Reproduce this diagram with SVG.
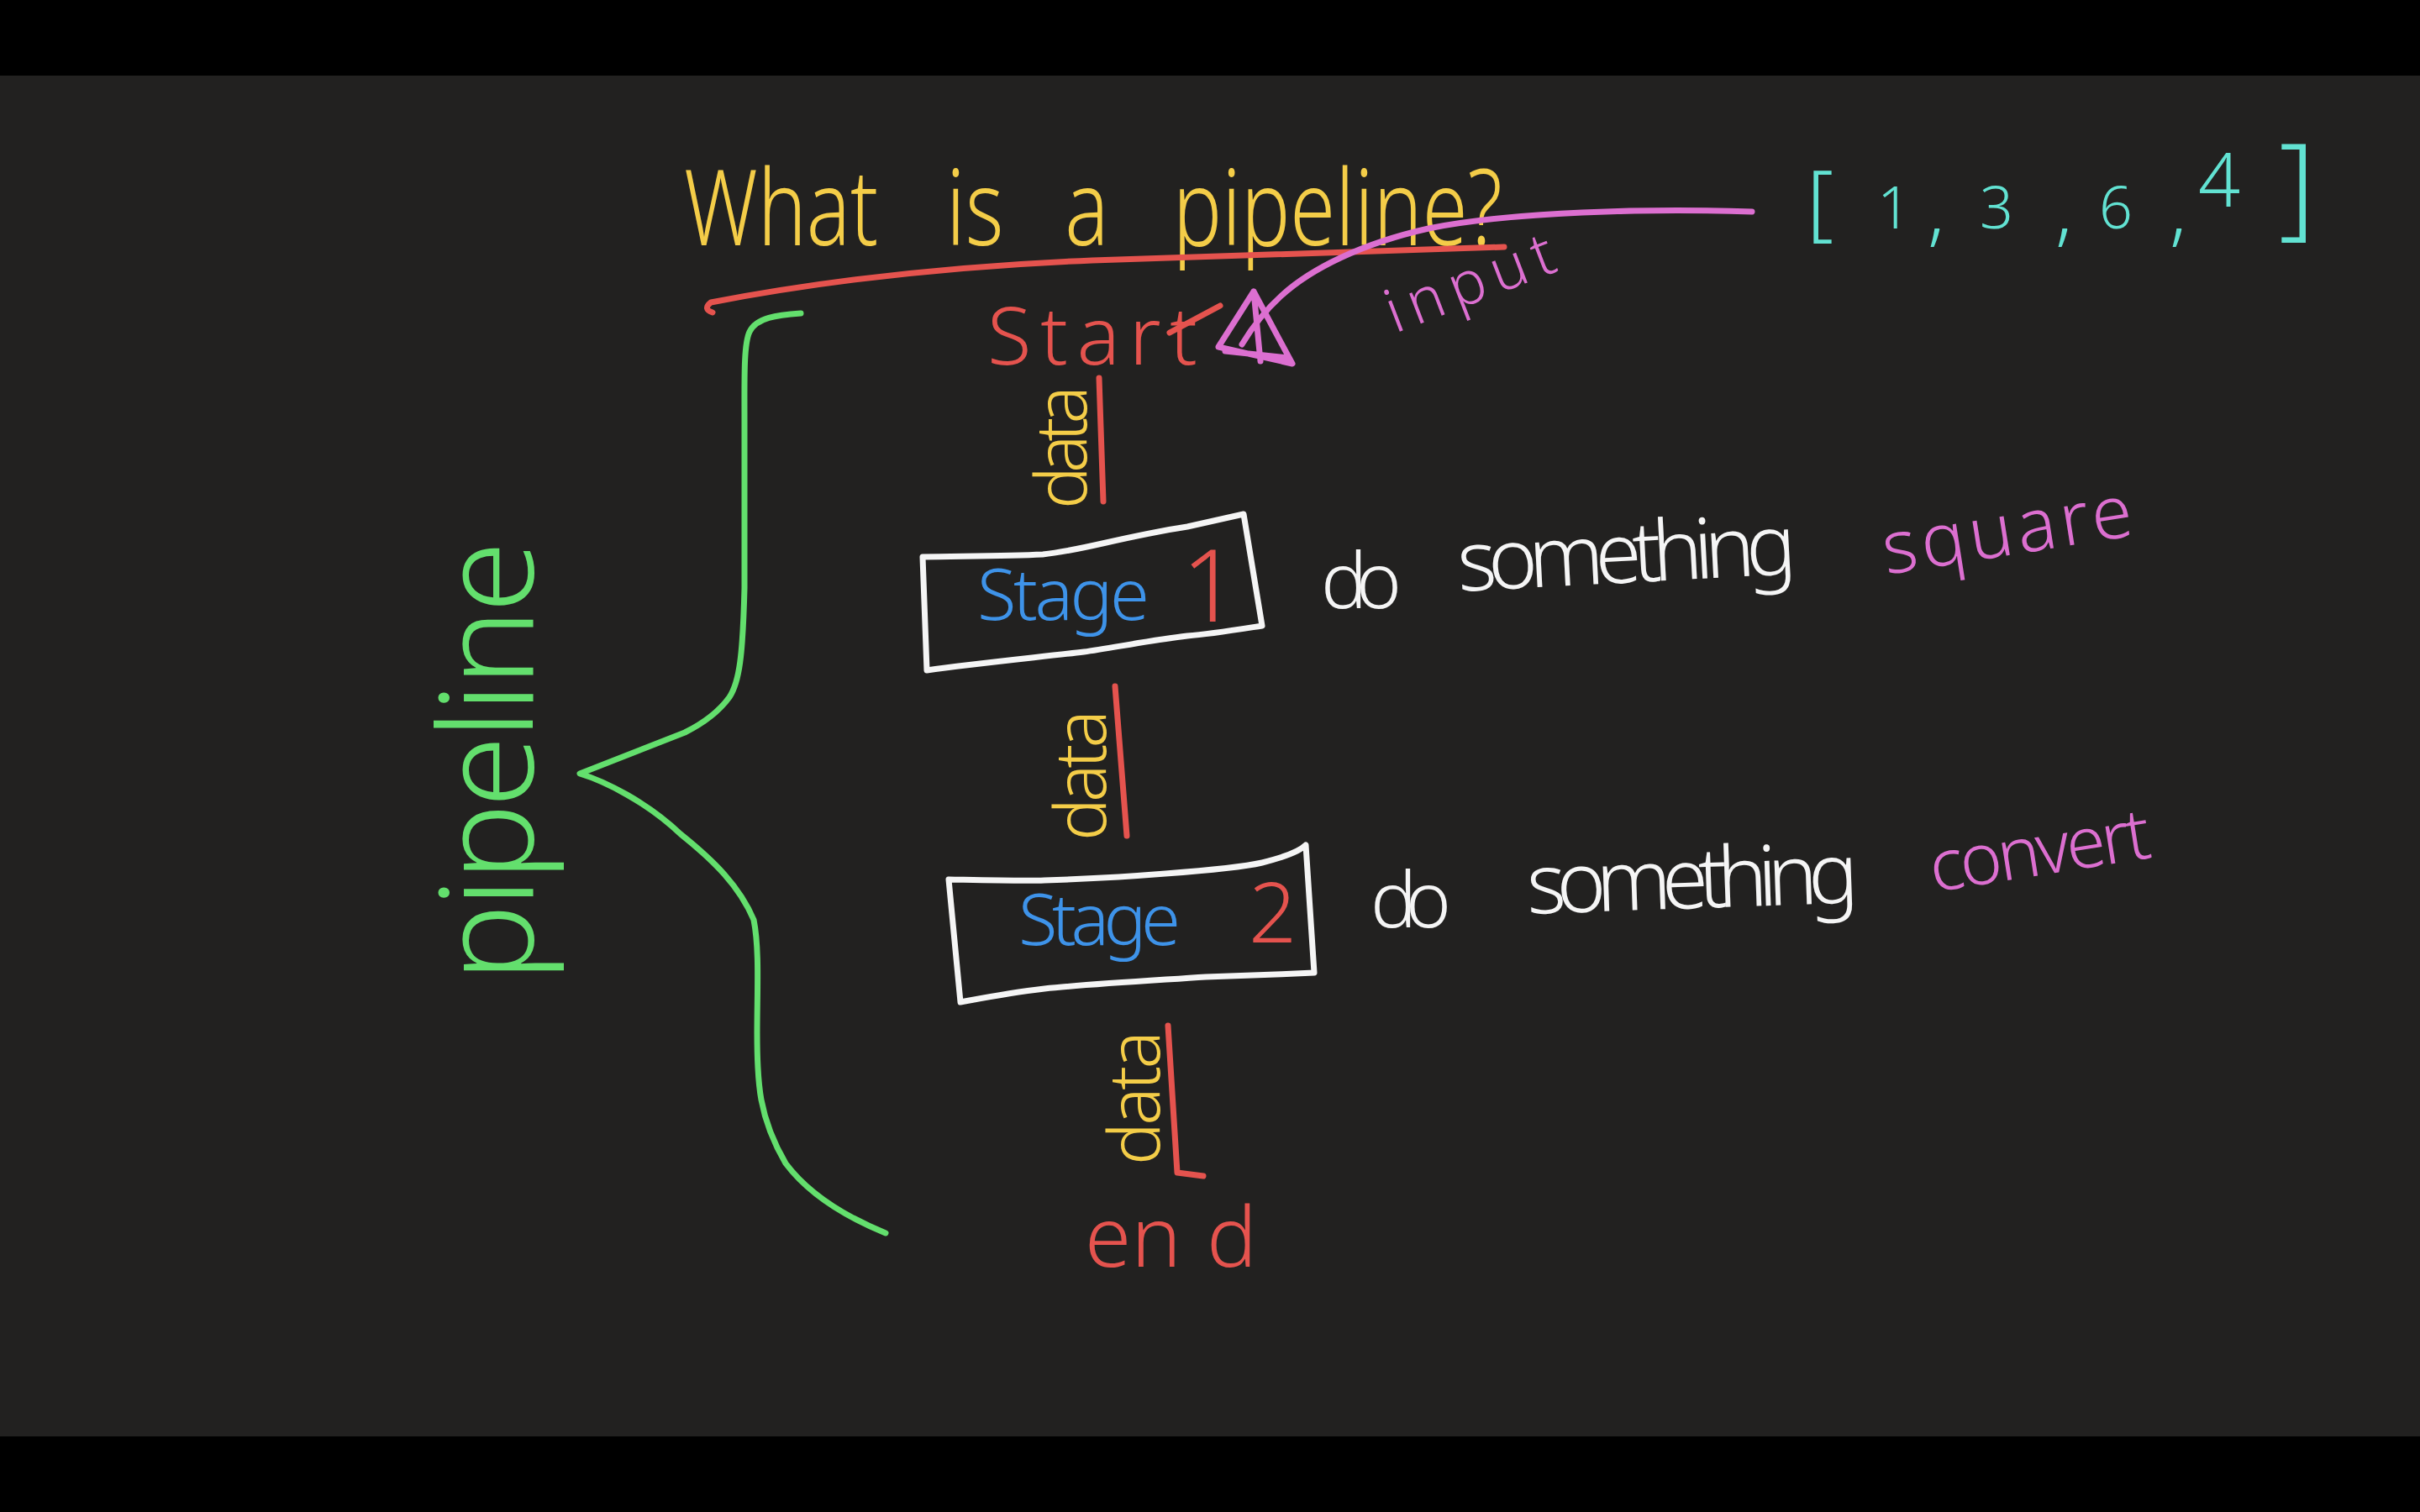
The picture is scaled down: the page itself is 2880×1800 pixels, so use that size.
<svg xmlns="http://www.w3.org/2000/svg" width="2880" height="1800" viewBox="0 0 2880 1800">
<defs>
<style>
text{font-family:"Noto Sans","Liberation Sans","DejaVu Sans",sans-serif;font-weight:300;}
.yel{fill:#f4cd48}
.red{fill:#e5534e}
.pink{fill:#dc6fd0}
.cyan{fill:#62e2d2}
.grn{fill:#63df6d}
.blue{fill:#3e93e9}
.wht{fill:#f5f5f5}
.ln{fill:none;stroke-linecap:round;stroke-linejoin:round;stroke-width:7}
.sr{stroke:#e5534e}
.sp{stroke:#dc6fd0}
.sg{stroke:#63df6d}
.sw{stroke:#f5f5f5}
</style>
</defs>
<rect width="2880" height="1800" fill="#000"/>
<rect y="90" width="2880" height="1620" fill="#222120"/>

<g id="title">
<text class="yel" font-size="125" transform="translate(814 292) scale(0.78 1)"><tspan x="0">What</tspan> <tspan x="400">is</tspan> <tspan x="581">a</tspan> <tspan x="746">pipeline?</tspan></text>
<path class="ln sr" d="M848,372 Q836,368 846,360 C950,340 1100,318 1300,310 C1500,302 1650,298 1790,294"/>
</g>

<g id="input-array">
<text class="cyan" y="274"><tspan x="2150" font-size="100">[</tspan><tspan x="2234" y="272" font-size="70">1</tspan><tspan x="2294" y="282" font-size="90">,</tspan> <tspan x="2356" y="272" font-size="70">3</tspan><tspan x="2446" y="282" font-size="90">,</tspan> <tspan x="2498" y="272" font-size="70">6</tspan><tspan x="2582" y="282" font-size="90">,</tspan> <tspan x="2616" y="246" font-size="88">4</tspan><tspan x="2712" y="268" font-size="135">]</tspan></text>
<text class="pink" font-size="72" x="1660" y="397" textLength="210" transform="rotate(-21 1660 397)">input</text>
</g>

<g id="start">
<text class="red" font-size="96" x="1175" y="434" textLength="250">Start</text>
<path class="ln sr" d="M1392,396 L1452,364"/>
</g>

<g id="stage1">
<path class="ln sw" d="M1098,663 C1150,662 1200,662 1241,660 C1290,655 1330,640 1413,627 L1480,612 L1502,745 C1470,750 1440,755 1413,757 C1370,762 1320,772 1290,776 C1240,782 1160,790 1103,798 Z"/>
<text class="blue" font-size="85" x="1163" y="738" textLength="205">Stage</text>
<text class="red" font-size="120" x="1406" y="740">1</text>
</g>
<g id="stage1-note">
<text class="wht" font-size="92" x="1572" y="724" textLength="96">do</text>
<text class="wht" font-size="100" x="1736" y="704" textLength="404" transform="rotate(-3 1736 704)">something</text>
<text class="pink" font-size="88" x="2245" y="684" textLength="300" transform="rotate(-9 2245 684)">square</text>
</g>

<g id="stage2">
<path class="ln sw" d="M1129,1047 C1180,1048 1220,1049 1243,1048 C1300,1046 1350,1043 1387,1040 C1440,1036 1480,1032 1502,1027 C1530,1020 1548,1012 1554,1006 L1564,1158 C1520,1160 1470,1162 1435,1163 C1360,1168 1290,1172 1243,1177 C1200,1182 1170,1188 1143,1193 Z"/>
<text class="blue" font-size="85" x="1212" y="1125" textLength="193">Stage</text>
<text class="red" font-size="100" x="1486" y="1122">2</text>
</g>
<g id="stage2-note">
<text class="wht" font-size="92" x="1631" y="1104" textLength="96">do</text>
<text class="wht" font-size="100" x="1818" y="1088" textLength="395" transform="rotate(-2 1818 1088)">something</text>
<text class="pink" font-size="85" x="2301" y="1062" textLength="265" transform="rotate(-9 2301 1062)">convert</text>
</g>

<g id="end">
<text class="red" font-size="100" y="1508"><tspan x="1291">en</tspan><tspan x="1436">d</tspan></text>
</g>

<g id="pipeline-brace">
<path class="ln sg" d="M953,373 C925,375 900,378 892,395 C885,410 886,450 886,500 L886,700 C884,780 880,812 868,830 C855,848 835,862 815,872 L690,921 C720,930 770,955 810,993 C850,1025 880,1055 897,1095 C904,1130 901,1180 901,1230 C901,1290 903,1330 935,1385 C965,1425 1010,1450 1054,1468"/>
<text class="grn" font-size="155" x="634" y="1169" textLength="525" transform="rotate(-90 634 1169)">pipeline</text>
</g>

<g id="data-labels">
<text class="yel" font-size="85" x="1293" y="606" textLength="147" transform="rotate(-90 1293 606)">data</text>
<text class="yel" font-size="85" x="1316" y="1001" textLength="156" transform="rotate(-90 1316 1001)">data</text>
<text class="yel" font-size="85" x="1380" y="1387" textLength="160" transform="rotate(-90 1380 1387)">data</text>
</g>

<g id="connectors">
<path class="ln sp" d="M2085,252 C1960,248 1800,252 1700,272 C1620,290 1560,320 1525,352 C1505,370 1490,390 1478,410"/>
<path class="ln sp" d="M1450,413 L1492,347 L1538,433 Z M1458,418 L1532,426 M1492,347 L1500,430"/>
<path class="ln sr" d="M1308,450 L1313,597"/>
<path class="ln sr" d="M1327,817 L1341,995"/>
<path class="ln sr" d="M1390,1221 L1401,1396 L1432,1400"/>
</g>
</svg>
